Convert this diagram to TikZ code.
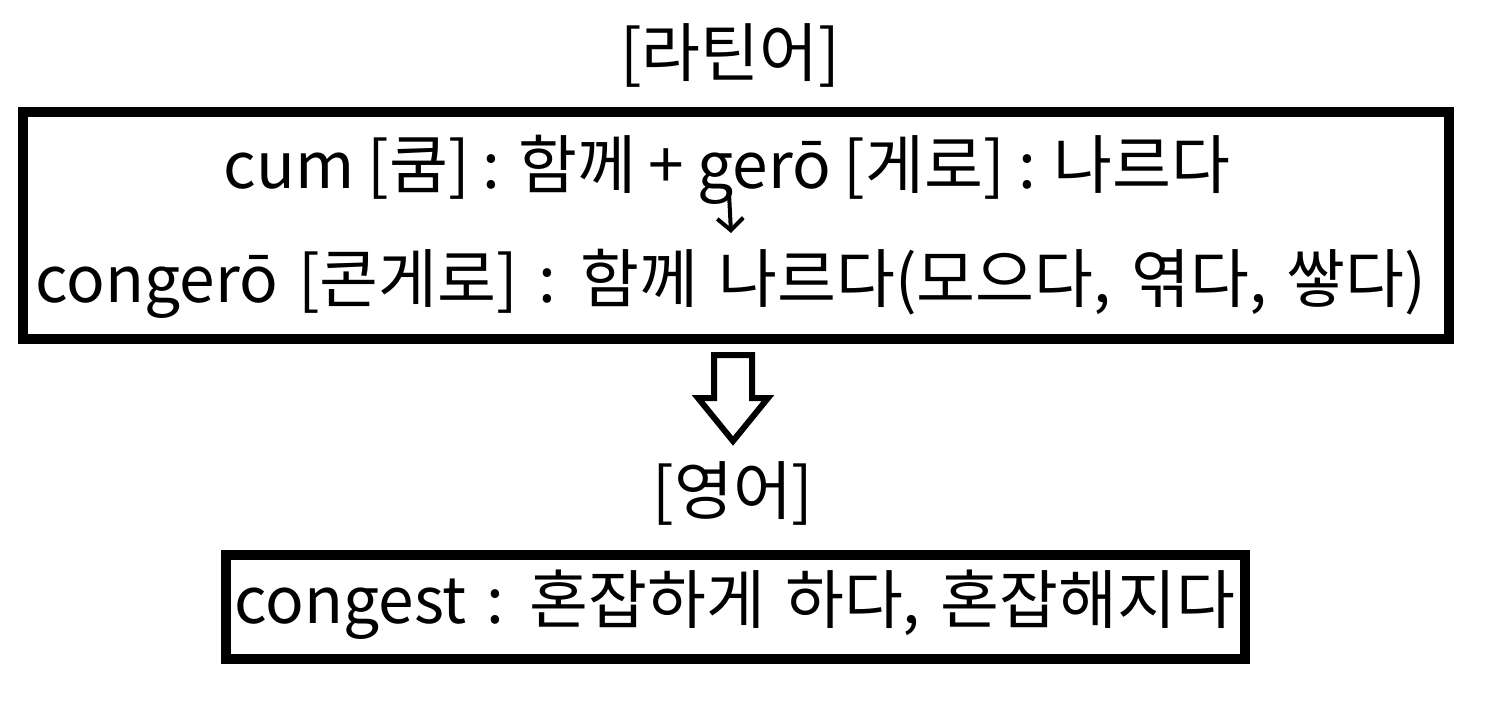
\documentclass[tikz,border=0pt]{standalone}
\usepackage{fontspec}
\setmainfont{Noto Sans CJK KR}[WordSpace=1.4]
\usetikzlibrary{arrows.meta}
\tikzset{
  box/.style={draw=black, line width=10pt, rectangle, inner sep=0pt},
  txt/.style={inner sep=0pt, anchor=center, font=\fontsize{64}{76}\selectfont},
  blockarrow/.style={draw=black, line width=6pt, fill=white, line join=miter},
}
\begin{document}
\begin{tikzpicture}[x=1pt,y=-1pt]
\useasboundingbox (0,0) rectangle (1485,703);
\node[txt] (t1) at (730,55) {[라틴어]};
\node[box, minimum width=1426pt, minimum height=227pt] (box1) at (736.25,225.5) {};
\node[txt] (l1) at (727,170) {\spaceskip=13pt cum [쿰] : 함께 + gerō [게로] : 나르다};
\node[txt] (l2) at (731,284) {congerō [콘게로] : 함께 나르다(모으다, 엮다, 쌓다)};
\coordinate (sa) at (729,193);
\coordinate (sb) at (731,233);
\draw[line width=4pt, -{Straight Barb[length=12pt,width=26pt,line width=4pt]}] (sa) -- (sb);
\draw[blockarrow] (714,355) -- (752,355) -- (752,398) -- (768,398) -- (733,441) -- (698,398) -- (714,398) -- cycle;
\node[txt] (t2) at (733,493) {[영어]};
\node[box, minimum width=1019.5pt, minimum height=104pt] (box2) at (735.25,606.5) {};
\node[txt] (l3) at (735,605) {congest : 혼잡하게 하다, 혼잡해지다};
\end{tikzpicture}
\end{document}
